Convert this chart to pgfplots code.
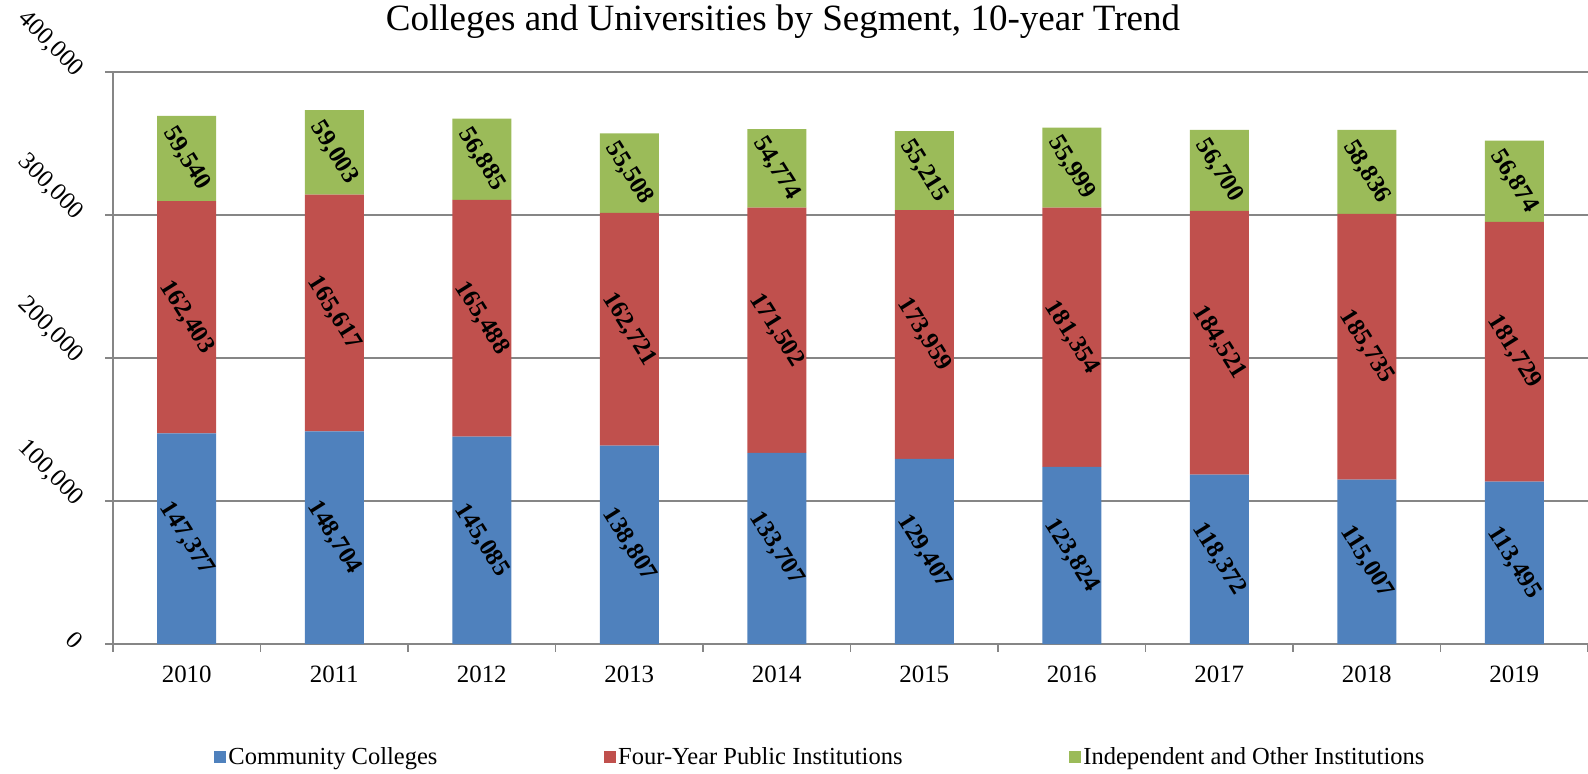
\documentclass[border=0pt]{standalone}
\usepackage{fontspec}
\setmainfont{Liberation Serif}
\usepackage{pgfplots}
\usepackage{pgfplotstable}
\pgfplotsset{compat=1.18}
\definecolor{cblue}{HTML}{4F81BD}
\definecolor{cred}{HTML}{C0504D}
\definecolor{cgreen}{HTML}{9BBB59}
\definecolor{axgray}{HTML}{868686}

\pgfplotstableread{
x cc fy ind
0 147377 162403 59540
1 148704 165617 59003
2 145085 165488 56885
3 138807 162721 55508
4 133707 171502 54774
5 129407 173959 55215
6 123824 181354 55999
7 118372 184521 56700
8 115007 185735 58836
9 113495 181729 56874
}\data

\pgfplotsset{sqlegend/.style={legend image code/.code={\fill[##1] (0bp,-3bp) rectangle (6bp,3bp);}}}

\begin{document}
\begin{tikzpicture}
\useasboundingbox (-56.5bp,-65bp) rectangle (737.5bp,322bp);
\begin{axis}[
  scale only axis, width=737.5bp, height=286bp,
  ybar stacked, bar width=0.4,
  xmin=-0.5, xmax=9.5, ymin=0, ymax=400000,
  axis x line*=bottom, axis y line*=left,
  axis line style={axgray, line width=0.9bp},
  ymajorgrids, grid style={axgray, line width=0.9bp},
  tick align=outside, major tick length=3.75bp,
  tick style={axgray, line width=0.9bp},
  ytick={0,100000,200000,300000,400000},
  scaled y ticks=false,
  /pgf/number format/fixed,
  /pgf/number format/1000 sep={,},
  /pgf/number format/assume math mode=true,
  yticklabel style={xshift=-13bp, yshift=-0.5bp, rotate=-45, anchor=east, inner sep=0pt, font=\fontsize{12.5}{15}\selectfont},
  xtick={-0.5,0.5,...,9.5}, xticklabels={},
  extra x ticks={0,1,...,9},
  extra x tick labels={2010,2011,2012,2013,2014,2015,2016,2017,2018,2019},
  extra x tick style={major tick length=0pt, grid=none, xticklabel style={anchor=base, yshift=-19bp, font=\fontsize{12.5}{15}\selectfont}},
  every axis title shift=0pt,
  title={Colleges and Universities by Segment, 10-year Trend},
  title style={at={(0.4542,1.0874)}, anchor=center, yshift=0pt, font=\fontsize{18.6}{22}\selectfont},
  legend style={draw=none, fill=none, at={(0.4796,-0.1976)}, anchor=center,
    legend columns=3, font=\fontsize{12.3}{14}\selectfont,
    nodes={inner sep=1.2bp},
    /tikz/every even column/.append style={column sep=82bp}},
  legend cell align=left,
]
\addplot[fill=cblue, draw=none, sqlegend] table[x=x, y=cc]{\data};
\addlegendentry{Community Colleges}
\addplot[fill=cred, draw=none, sqlegend] table[x=x, y=fy]{\data};
\addlegendentry{Four-Year Public Institutions}
\addplot[fill=cgreen, draw=none, sqlegend] table[x=x, y=ind]{\data};
\addlegendentry{Independent and Other Institutions}
\end{axis}
\begin{axis}[
  scale only axis, width=737.5bp, height=286bp,
  xmin=-0.5, xmax=9.5, ymin=0, ymax=400000,
  hide axis, nodes near coords,
  /pgf/number format/fixed,
  /pgf/number format/1000 sep={,},
  /pgf/number format/assume math mode=true,
  every node near coord/.append style={anchor=center, rotate=-58, inner sep=0pt,
    font=\bfseries\fontsize{12.5}{15}\selectfont, text=black},
]
\addplot[draw=none, point meta=\thisrow{cc}] table[x=x, y expr=\thisrow{cc}/2]{\data};
\addplot[draw=none, point meta=\thisrow{fy}] table[x=x, y expr=\thisrow{cc}+\thisrow{fy}/2]{\data};
\addplot[draw=none, point meta=\thisrow{ind}] table[x=x, y expr=\thisrow{cc}+\thisrow{fy}+\thisrow{ind}/2]{\data};
\end{axis}
\end{tikzpicture}
\end{document}
